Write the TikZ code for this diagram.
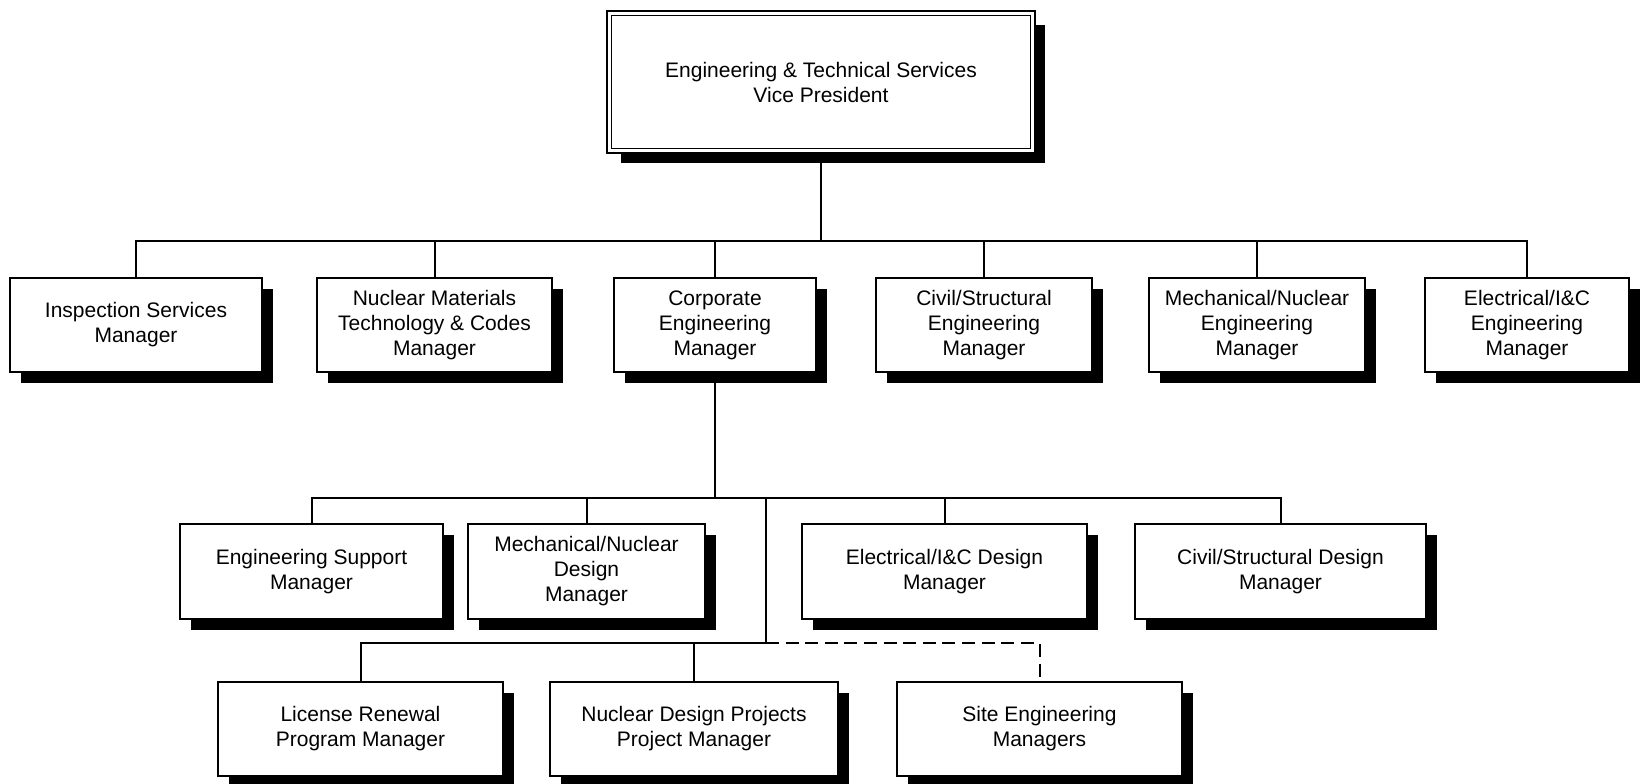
\documentclass[tikz,border=0pt]{standalone}
\usepackage{fontspec}
\setmainfont{Liberation Sans}
\usetikzlibrary{shadows}
\begin{document}
\begin{tikzpicture}[x=0.5pt,y=-0.5pt,
  lbl/.style={align=center, inner sep=2pt, font=\fontsize{10.5}{12.5}\selectfont},
  mgr/.style={lbl, draw=black, line width=1pt, fill=white,
    drop shadow={shadow xshift=5.5pt, shadow yshift=-5.5pt, fill=black, opacity=1}},
  vpbox/.style={lbl, draw=black, line width=0.9pt, double=white, double distance=1.4pt,
    fill=white, minimum width=211.8pt, minimum height=68.8pt,
    drop shadow={shadow xshift=6pt, shadow yshift=-6pt, fill=black, opacity=1}},
  rowtwo/.style={mgr, minimum height=47pt},
  rowthree/.style={mgr, minimum height=47.5pt},
  rowfour/.style={mgr, minimum height=47pt},
  link/.style={line width=1pt},
  dottedlink/.style={link, dash pattern=on 6.5pt off 3.3pt}]

\useasboundingbox (0,0) rectangle (1640,783);

% bus lines
\coordinate (bus1) at (0,241);
\coordinate (bus2) at (0,498);
\coordinate (bus3) at (0,643);
\coordinate (junc) at (766,498);

% top
\node[vpbox] (vp) at (821,82) {Engineering \& Technical Services\\Vice President};

% second row
\node[rowtwo, minimum width=126pt]   (insp) at (136,325)    {Inspection Services\\Manager};
\node[rowtwo, minimum width=117.5pt] (nmt)  at (434.5,325)  {Nuclear Materials\\Technology \& Codes\\Manager};
\node[rowtwo, minimum width=101pt]   (corp) at (715,325)    {Corporate\\Engineering\\Manager};
\node[rowtwo, minimum width=108pt]   (civ)  at (984,325)    {Civil/Structural\\Engineering\\Manager};
\node[rowtwo, minimum width=108pt]   (mech) at (1257,325)   {Mechanical/Nuclear\\Engineering\\Manager};
\node[rowtwo, minimum width=102pt]   (elec) at (1527,325)   {Electrical/I\&C\\Engineering\\Manager};

% third row
\node[rowthree, minimum width=131.5pt] (esup) at (311.5,571.5)  {Engineering Support\\Manager};
\node[rowthree, minimum width=118.5pt] (mnd)  at (586.5,571.5)  {Mechanical/Nuclear\\Design\\Manager};
\node[rowthree, minimum width=142.5pt] (eicd) at (944.5,571.5)  {Electrical/I\&C Design\\Manager};
\node[rowthree, minimum width=145.5pt] (csd)  at (1280.5,571.5) {Civil/Structural Design\\Manager};

% fourth row
\node[rowfour, minimum width=142.5pt] (lrp)  at (360.5,729)  {License Renewal\\Program Manager};
\node[rowfour, minimum width=144pt]   (ndp)  at (694,729)    {Nuclear Design Projects\\Project Manager};
\node[rowfour, minimum width=142.5pt] (seng) at (1039.5,729) {Site Engineering\\Managers};

% vice president to managers
\draw[link] (vp.south) -- (vp.south |- bus1);
\draw[link] (insp.north) -- (insp.north |- bus1) -- (elec.north |- bus1) -- (elec.north);
\foreach \n in {nmt,corp,civ,mech}
  \draw[link] (\n.north) -- (\n.north |- bus1);

% corporate engineering to design managers
\draw[link] (corp.south) -- (corp.south |- bus2);
\draw[link] (esup.north) -- (esup.north |- bus2) -- (csd.north |- bus2) -- (csd.north);
\foreach \n in {mnd,eicd}
  \draw[link] (\n.north) -- (\n.north |- bus2);

% project and site managers
\draw[link] (junc) -- (junc |- bus3);
\draw[link] (lrp.north) -- (lrp.north |- bus3) -- (junc |- bus3);
\draw[link] (ndp.north) -- (ndp.north |- bus3);
\draw[dottedlink] (junc |- bus3) -- (seng.north |- bus3) -- (seng.north);

\end{tikzpicture}
\end{document}
